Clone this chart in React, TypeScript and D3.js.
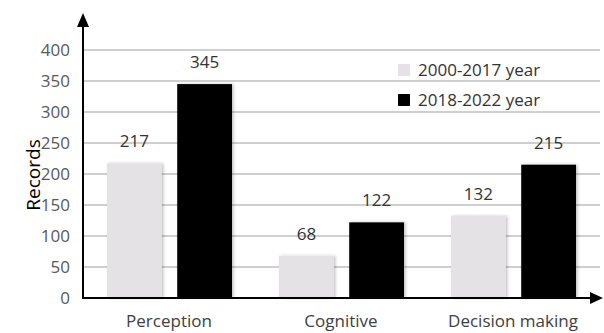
import React from "react";
import * as d3 from "d3";

const categories = ["Perception", "Cognitive", "Decision making"];
const seriesNames = ["2000-2017 year", "2018-2022 year"];
const series2000_2017 = [217, 68, 132];
const series2018_2022 = [345, 122, 215];
const yTicks = [0, 50, 100, 150, 200, 250, 300, 350, 400];

const W = 604;
const H = 333;
const FONT = "'Open Sans', sans-serif";

export default function App() {
  const x0 = 83;
  const y0 = 298;
  const x = d3.scaleBand<string>().domain(categories).range([x0, 599]).padding(0);
  const xs = d3.scaleBand<number>().domain([0, 1]).range([24, 149]).paddingInner(0.22);
  const y = d3.scaleLinear().domain([0, 400]).range([y0, 50]);
  const colors = ["#e4e2e4", "#000000"];
  const values = [series2000_2017, series2018_2022];

  return (
    <svg width={W} height={H} style={{ position: "absolute", left: 0, top: 0, background: "#fff" }}>
      <defs>
        <filter id="sh" x="-20%" y="-20%" width="140%" height="140%">
          <feDropShadow dx="1.5" dy="0" stdDeviation="1.5" floodColor="#000" floodOpacity="0.25" />
        </filter>
      </defs>
      <rect x={0} y={0} width={W} height={H} fill="#fff" />
      {yTicks.filter((t) => t > 0).map((t) => (
        <line key={t} x1={x0} x2={600} y1={y(t)} y2={y(t)} stroke="#cfcfcf" strokeWidth={2} />
      ))}
      {yTicks.map((t) => (
        <text key={"l" + t} x={70} y={y(t)} dy="0.35em" textAnchor="end" fontFamily={FONT} fontSize={17} fill="#595959">
          {t}
        </text>
      ))}
      <text transform={`translate(40,175) rotate(-90)`} textAnchor="middle" fontFamily={FONT} fontSize={19} fill="#000">
        Records
      </text>
      {categories.map((c, i) => (
        <g key={c}>
          {values.map((vals, s) => {
            const bx = (x(c) as number) + (xs(s) as number);
            const bw = xs.bandwidth();
            return (
              <g key={s}>
                <rect x={bx} y={y(vals[i])} width={bw} height={y0 - y(vals[i])} fill={colors[s]} filter="url(#sh)" />
                <text x={bx + bw / 2} y={y(vals[i]) - 16} textAnchor="middle" fontFamily={FONT} fontSize={17} fill="#333">
                  {vals[i]}
                </text>
              </g>
            );
          })}
          <text x={(x(c) as number) + x.bandwidth() / 2} y={327} textAnchor="middle" fontFamily={FONT} fontSize={17} fill="#404040">
            {c}
          </text>
        </g>
      ))}
      <line x1={x0} x2={592} y1={y0} y2={y0} stroke="#000" strokeWidth={2} />
      <polygon points={`590,${y0 - 6} 603,${y0} 590,${y0 + 6}`} fill="#000" />
      <line x1={x0} x2={x0} y1={y0 + 1} y2={22} stroke="#000" strokeWidth={2} />
      <polygon points={`${x0 - 6},27 ${x0},13 ${x0 + 6},27`} fill="#000" />
      {seriesNames.map((n, i) => (
        <g key={n} transform={`translate(398,${64 + i * 30})`}>
          <rect x={0} y={0} width={12} height={12} fill={colors[i]} />
          <text x={20} y={6} dy="0.35em" fontFamily={FONT} fontSize={17} fill="#333">
            {n}
          </text>
        </g>
      ))}
    </svg>
  );
}
